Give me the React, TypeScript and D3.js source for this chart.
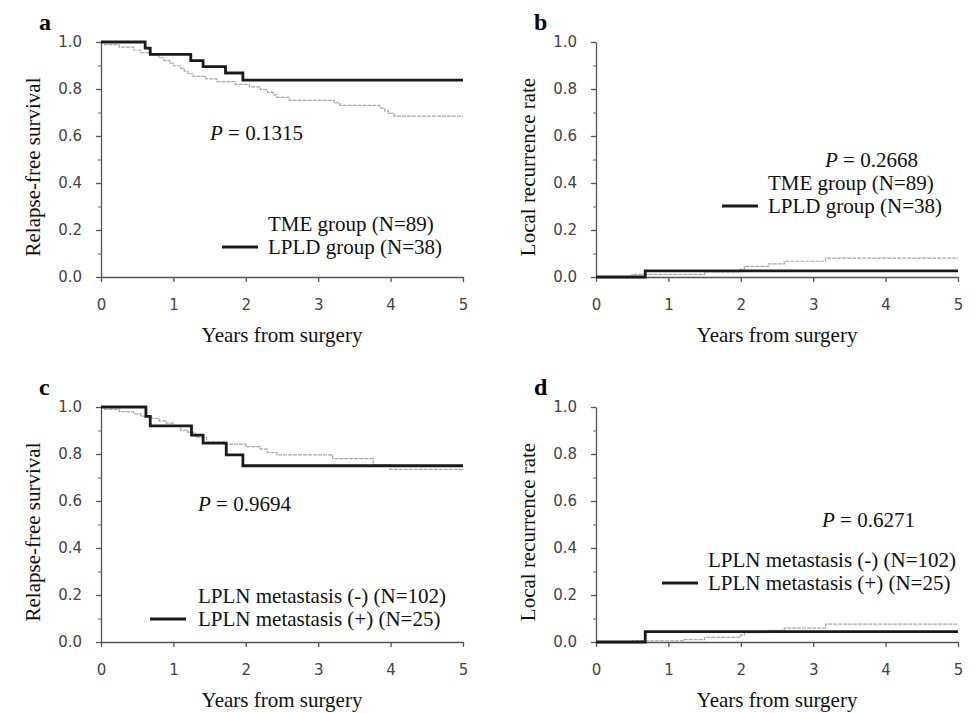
import { useEffect, useRef } from 'react';
import * as d3 from 'd3';

// x ticks and y ticks shared by all four panels
const yearTicks = [0, 1, 2, 3, 4, 5];
const rateTicks = [0, 0.2, 0.4, 0.6, 0.8, 1.0];
const minorTicks = [0.1, 0.3, 0.5, 0.7, 0.9];

// panel a: relapse-free survival by group
const tmeRfsTimes = [0, 0.05, 0.25, 0.45, 0.55, 0.7, 0.8, 0.87, 0.95, 1.0, 1.1, 1.15, 1.2, 1.27, 1.45, 1.6, 1.85, 2.05, 2.2, 2.3, 2.38, 2.43, 2.6, 3.22, 3.3, 3.85, 3.92, 3.97, 4.05, 5];
const tmeRfsValues = [1, 0.989, 0.978, 0.966, 0.955, 0.944, 0.933, 0.921, 0.91, 0.899, 0.888, 0.876, 0.865, 0.854, 0.843, 0.831, 0.82, 0.809, 0.797, 0.786, 0.775, 0.764, 0.752, 0.741, 0.73, 0.719, 0.707, 0.696, 0.685, 0.685];
const lpldRfsTimes = [0, 0.61, 0.68, 1.24, 1.41, 1.72, 1.96, 5];
const lpldRfsValues = [1, 0.974, 0.947, 0.921, 0.895, 0.868, 0.838, 0.838];

// panel b: local recurrence by group
const tmeLrTimes = [0, 0.5, 1.5, 2.0, 2.05, 2.38, 2.6, 3.17, 5];
const tmeLrValues = [0, 0.011, 0.022, 0.034, 0.045, 0.056, 0.067, 0.08, 0.08];
const lpldLrTimes = [0, 0.68, 5];
const lpldLrValues = [0, 0.026, 0.026];

// panel c: relapse-free survival by LPLN status
const negRfsTimes = [0, 0.05, 0.25, 0.45, 0.55, 0.7, 0.8, 0.9, 1.0, 1.1, 1.2, 1.3, 1.46, 1.7, 2.0, 2.2, 2.3, 2.43, 3.2, 3.76, 3.99, 5];
const negRfsValues = [1, 0.99, 0.98, 0.971, 0.961, 0.951, 0.941, 0.931, 0.921, 0.902, 0.892, 0.872, 0.852, 0.842, 0.831, 0.821, 0.806, 0.796, 0.78, 0.755, 0.735, 0.735];
const posRfsTimes = [0, 0.62, 0.68, 1.25, 1.41, 1.73, 1.96, 5];
const posRfsValues = [1, 0.96, 0.92, 0.88, 0.846, 0.796, 0.75, 0.75];

// panel d: local recurrence by LPLN status
const negLrTimes = [0, 0.5, 1.2, 1.5, 2.0, 2.05, 2.38, 2.6, 3.17, 5];
const negLrValues = [0, 0.005, 0.01, 0.02, 0.03, 0.04, 0.05, 0.059, 0.076, 0.076];
const posLrTimes = [0, 0.68, 5];
const posLrValues = [0, 0.044, 0.044];

const width = 976;
const height = 713;

const serif = '"Liberation Serif", "Times New Roman", serif';
const sans = '"DejaVu Sans", Verdana, sans-serif';

function Panel({ left, top, letter, yTitle, pValue, pX, pY, legendTop, legendBottom, legX, legY, lineX, grey, black }) {
  const gx = useRef(null);
  const gy = useRef(null);
  const gm = useRef(null);

  const x = d3.scaleLinear().domain([0, 5]).range([left, left + 362]);
  const y = d3.scaleLinear().domain([0, 1]).range([top + 235, top]);

  const line = d3.line()
    .x(d => x(d[0]))
    .y(d => y(d[1]))
    .curve(d3.curveStepAfter);

  useEffect(() => {
    const ax = d3.select(gx.current).call(
      d3.axisBottom(x).tickValues(yearTicks).tickSize(5).tickSizeOuter(0).tickPadding(3).tickFormat(d3.format('d'))
    );
    ax.selectAll('text').attr('dy', '1.65em').attr('font-size', 15).attr('font-family', sans).attr('fill', '#444');
    ax.selectAll('line, path').attr('stroke', '#555').attr('stroke-width', 1.3);

    const ay = d3.select(gy.current).call(
      d3.axisLeft(y).tickValues(rateTicks).tickSize(5).tickSizeOuter(0).tickPadding(14).tickFormat(d3.format('.1f'))
    );
    ay.selectAll('text').attr('font-size', 15).attr('font-family', sans).attr('fill', '#444');
    ay.selectAll('line, path').attr('stroke', '#555').attr('stroke-width', 1.3);

    const am = d3.select(gm.current).call(
      d3.axisLeft(y).tickValues(minorTicks).tickSize(3).tickFormat(() => '')
    );
    am.select('.domain').remove();
    am.selectAll('line').attr('stroke', '#666').attr('stroke-width', 1);
  }, [left, top]);

  const greyPts = grey.times.map((t, i) => [t, grey.values[i]]);
  const blackPts = black.times.map((t, i) => [t, black.values[i]]);

  return (
    <g>
      <text x={left - 62} y={top - 12} fontFamily={serif} fontWeight="bold" fontSize={24}>{letter}</text>
      <g ref={gx} transform={`translate(0, ${top + 235})`} />
      <g ref={gy} transform={`translate(${left}, 0)`} />
      <g ref={gm} transform={`translate(${left}, 0)`} />
      <text
        transform={`translate(${left - 61}, ${top + 125}) rotate(-90)`}
        textAnchor="middle"
        fontFamily={serif}
        fontSize={21}
        fill="#111"
      >{yTitle}</text>
      <text x={left + 181} y={top + 300} textAnchor="middle" fontFamily={serif} fontSize={21} fill="#111">Years from surgery</text>

      <path d={line(greyPts)} fill="none" stroke="#a8a8a8" strokeWidth={1.2} strokeDasharray="4 1" />
      <path d={line(blackPts)} fill="none" stroke="#1a1a1a" strokeWidth={2.8} />

      <text x={pX} y={pY} fontFamily={serif} fontSize={21} fill="#111">
        <tspan fontStyle="italic">P</tspan> = {pValue}
      </text>

      <text x={legX} y={legY} fontFamily={serif} fontSize={21} fill="#111">{legendTop}</text>
      <line x1={lineX} x2={lineX + 36} y1={legY + 16} y2={legY + 16} stroke="#1a1a1a" strokeWidth={3} />
      <text x={legX} y={legY + 23} fontFamily={serif} fontSize={21} fill="#111">{legendBottom}</text>
    </g>
  );
}

export default function App() {
  return (
    <svg
      width={width}
      height={height}
      viewBox={`0 0 ${width} ${height}`}
      style={{ position: 'absolute', left: 0, top: 0, background: '#fff' }}
    >
      <Panel
        left={101} top={42} letter="a" yTitle="Relapse-free survival"
        pValue="0.1315" pX={210} pY={140}
        legendTop="TME group (N=89)" legendBottom="LPLD group (N=38)"
        legX={268} legY={231} lineX={222}
        grey={{ times: tmeRfsTimes, values: tmeRfsValues }}
        black={{ times: lpldRfsTimes, values: lpldRfsValues }}
      />
      <Panel
        left={596} top={42} letter="b" yTitle="Local recurrence rate"
        pValue="0.2668" pX={825} pY={167}
        legendTop="TME group (N=89)" legendBottom="LPLD group (N=38)"
        legX={768} legY={190} lineX={722}
        grey={{ times: tmeLrTimes, values: tmeLrValues }}
        black={{ times: lpldLrTimes, values: lpldLrValues }}
      />
      <Panel
        left={101} top={407} letter="c" yTitle="Relapse-free survival"
        pValue="0.9694" pX={198} pY={511}
        legendTop="LPLN metastasis (-) (N=102)" legendBottom="LPLN metastasis (+) (N=25)"
        legX={198} legY={603} lineX={150}
        grey={{ times: negRfsTimes, values: negRfsValues }}
        black={{ times: posRfsTimes, values: posRfsValues }}
      />
      <Panel
        left={596} top={407} letter="d" yTitle="Local recurrence rate"
        pValue="0.6271" pX={822} pY={527}
        legendTop="LPLN metastasis (-) (N=102)" legendBottom="LPLN metastasis (+) (N=25)"
        legX={708} legY={567} lineX={662}
        grey={{ times: negLrTimes, values: negLrValues }}
        black={{ times: posLrTimes, values: posLrValues }}
      />
    </svg>
  );
}
